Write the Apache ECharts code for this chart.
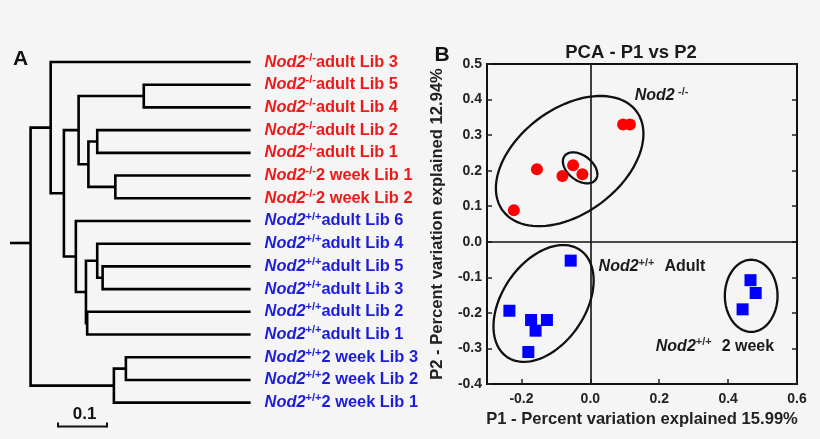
<!DOCTYPE html>
<html><head><meta charset="utf-8">
<script src="https://cdn.jsdelivr.net/npm/echarts@6/dist/echarts.min.js"></script>
<style>html,body{margin:0;padding:0;background:#f5f5f5}#c{width:820px;height:439px}</style>
</head><body><div id="c"></div>
<script>
// ---------- Panel A : dendrogram ----------
const leafGenotype = ['-/-','-/-','-/-','-/-','-/-','-/-','-/-','+/+','+/+','+/+','+/+','+/+','+/+','+/+','+/+','+/+'];
const leafNames = ['adult Lib 3','adult Lib 5','adult Lib 4','adult Lib 2','adult Lib 1','2 week Lib 1','2 week Lib 2',
  'adult Lib 6','adult Lib 4','adult Lib 5','adult Lib 3','adult Lib 2','adult Lib 1','2 week Lib 3','2 week Lib 2','2 week Lib 1'];
// linkage: [childA, childB, node distance from root]; leaves 0..15, internal nodes 16..
const merges = [
  [1, 2, 0.231], [3, 4, 0.136], [5, 6, 0.173], [17, 18, 0.118], [16, 19, 0.098],
  [9, 10, 0.147], [8, 21, 0.136], [11, 12, 0.1155], [22, 23, 0.113], [7, 24, 0.0924],
  [20, 25, 0.068], [0, 26, 0.041], [13, 14, 0.1945], [28, 15, 0.170], [27, 29, 0.0]
];
const tipDistance = 0.449;
const scaleBarLength = 0.1;

// ---------- Panel B : PCA ----------
const koPoints = [[0.095,0.33],[0.115,0.33],[-0.155,0.204],[-0.081,0.185],[-0.05,0.215],[-0.023,0.19],[-0.222,0.089]];
const wtAdultPoints = [[-0.057,-0.053],[-0.235,-0.194],[-0.172,-0.22],[-0.126,-0.22],[-0.159,-0.25],[-0.18,-0.31]];
const wt2wkPoints = [[0.465,-0.108],[0.48,-0.144],[0.442,-0.19]];
// ellipse: [cx, cy, ax, ay, by]  x = cx + ax*cos t ; y = cy + ay*cos t + by*sin t
const ellipses = [
  [-0.060, 0.227, 0.2142, 0.0765, 0.1664],
  [-0.0297, 0.208, 0.0500, -0.0180, 0.0397],
  [-0.1358, -0.1735, 0.1454, 0.0645, 0.1511],
  [0.467, -0.152, 0.0765, 0, 0.1014]
];
const xTickValues = [-0.2, 0, 0.2, 0.4, 0.6];

// ---------- layout constants ----------
const FONT = 'Liberation Sans, Arial, sans-serif';
const rootStub = 0.042, stubRow = 7.97, scaleBarStart = 0.056;
const annotationAnchors = [[0.129, 0.41], [0.024, -0.071], [0.19, -0.294]];

// derived tree geometry
const nLeaf = leafNames.length;
const nodeX = [], nodeY = [];
for (let i = 0; i < nLeaf; i++) { nodeX.push(tipDistance); nodeY.push(i); }
merges.forEach(m => { nodeX.push(m[2]); nodeY.push((nodeY[m[0]] + nodeY[m[1]]) / 2); });
const segments = merges.map(m => [m[2], nodeX[m[0]], nodeY[m[0]], nodeX[m[1]], nodeY[m[1]]]);

const RED = '#f01818', BLUE = '#1c1cdc';
function richSet(prefix, color) {
  const o = {};
  o[prefix + 'it'] = {fontFamily: FONT, fontSize: 16.4, fontWeight: 'bold', fontStyle: 'italic', color: color, lineHeight: 20, verticalAlign: 'middle'};
  o[prefix + 'sup'] = {fontFamily: FONT, fontSize: 11, fontWeight: 'bold', color: color, lineHeight: 12, verticalAlign: 'top'};
  o[prefix + 'tx'] = {fontFamily: FONT, fontSize: 16.4, fontWeight: 'bold', color: color, lineHeight: 20, verticalAlign: 'middle'};
  return o;
}
const leafRich = Object.assign({}, richSet('r', RED), richSet('b', BLUE));

const chart = echarts.init(document.getElementById('c'));
const option = {
  backgroundColor: '#f5f5f5',
  animation: false,
  grid: [
    {left: 10, top: 50.65, width: 240.6, height: 363.35, outerBoundsMode: 'none'},
    {left: 487, top: 64, width: 310, height: 320, show: true, borderColor: '#111', borderWidth: 2, backgroundColor: 'transparent', outerBoundsMode: 'none'}
  ],
  xAxis: [
    {gridIndex: 0, type: 'value', min: -rootStub, max: tipDistance, show: false},
    {gridIndex: 1, type: 'value', min: -0.3, max: 0.6, interval: 0.1,
      axisLine: {show: true, onZero: false, lineStyle: {color: '#111', width: 2}},
      axisTick: {show: true, inside: true, length: 5, customValues: xTickValues, lineStyle: {color: '#222', width: 1.5}},
      axisLabel: {customValues: xTickValues, margin: 8, formatter: v => v.toFixed(1), color: '#222', fontFamily: FONT, fontWeight: 'bold', fontSize: 14},
      splitLine: {show: false},
      name: 'P1 - Percent variation explained 15.99%', nameLocation: 'middle', nameGap: 27,
      nameTextStyle: {color: '#222', fontFamily: FONT, fontWeight: 'bold', fontSize: 16.6}}
  ],
  yAxis: [
    {gridIndex: 0, type: 'value', min: -0.5, max: nLeaf - 0.5, inverse: true, show: false},
    {gridIndex: 0, type: 'category', inverse: true, position: 'right', data: leafNames,
      axisLine: {show: false}, axisTick: {show: false},
      axisLabel: {margin: 14, rich: leafRich, formatter: (v, i) => {
        const p = leafGenotype[i] === '-/-' ? 'r' : 'b';
        return '{' + p + 'it|Nod2}{' + p + 'sup|' + leafGenotype[i] + '}{' + p + 'tx|' + leafNames[i] + '}';
      }}},
    {gridIndex: 1, type: 'value', min: -0.4, max: 0.5, interval: 0.1,
      axisLine: {show: true, onZero: false, lineStyle: {color: '#111', width: 2}},
      axisTick: {show: true, inside: true, length: 5, lineStyle: {color: '#222', width: 1.5}},
      axisLabel: {margin: 5, formatter: v => v.toFixed(1), color: '#222', fontFamily: FONT, fontWeight: 'bold', fontSize: 14},
      splitLine: {show: false},
      name: 'P2 - Percent variation explained 12.94%', nameLocation: 'middle', nameGap: 41,
      nameTextStyle: {color: '#222', fontFamily: FONT, fontWeight: 'bold', fontSize: 16.6}},
    {gridIndex: 1, type: 'value', min: -0.4, max: 0.5, interval: 0.1, position: 'right',
      axisLine: {show: true, onZero: false, lineStyle: {color: '#111', width: 2}},
      axisTick: {show: true, inside: true, length: 5, lineStyle: {color: '#222', width: 1.5}},
      axisLabel: {show: false}, splitLine: {show: false}}
  ],
  series: [
    {type: 'custom', xAxisIndex: 0, yAxisIndex: 0, data: segments, encode: {x: [0, 1, 3], y: [2, 4]}, clip: false,
      renderItem: (params, api) => {
        const xn = api.value(0), xa = api.value(1), ya = api.value(2), xb = api.value(3), yb = api.value(4);
        return {type: 'polyline', shape: {points: [api.coord([xa, ya]), api.coord([xn, ya]), api.coord([xn, yb]), api.coord([xb, yb])]},
          style: {stroke: '#000', lineWidth: 2.6, fill: null, lineJoin: 'miter'}};
      }},
    {type: 'custom', xAxisIndex: 0, yAxisIndex: 0, data: [[-rootStub, 0, stubRow]], encode: {x: [0, 1], y: 2}, clip: false,
      renderItem: (params, api) => {
        const a = api.coord([api.value(0), api.value(2)]), b = api.coord([api.value(1), api.value(2)]);
        return {type: 'line', shape: {x1: a[0], y1: a[1], x2: b[0], y2: b[1]}, style: {stroke: '#000', lineWidth: 2.6}};
      }},
    {type: 'custom', xAxisIndex: 0, yAxisIndex: 0, data: [[scaleBarStart, scaleBarStart + scaleBarLength]], encode: {x: [0, 1]}, clip: false,
      renderItem: (params, api) => {
        const a = api.coord([api.value(0), 16.05]), b = api.coord([api.value(1), 16.05]);
        const t = api.coord([(api.value(0) + api.value(1)) / 2, 15.52]);
        return {type: 'group', children: [
          {type: 'line', shape: {x1: a[0], y1: a[1], x2: b[0], y2: b[1]}, style: {stroke: '#111', lineWidth: 2}},
          {type: 'line', shape: {x1: a[0], y1: a[1] - 4, x2: a[0], y2: a[1] + 1}, style: {stroke: '#111', lineWidth: 2}},
          {type: 'line', shape: {x1: b[0], y1: b[1] - 4, x2: b[0], y2: b[1] + 1}, style: {stroke: '#111', lineWidth: 2}},
          {type: 'text', x: t[0] + 2, y: t[1], style: {text: String(scaleBarLength), align: 'center', verticalAlign: 'middle', fill: '#111',
            font: 'bold 17px ' + FONT}}
        ]};
      }},
    {type: 'custom', xAxisIndex: 1, yAxisIndex: 2, data: ellipses, encode: {x: 0, y: 1}, z: 2,
      renderItem: (params, api) => {
        const cx = api.value(0), cy = api.value(1), ax = api.value(2), ay = api.value(3), by = api.value(4);
        const pts = [];
        for (let k = 0; k < 96; k++) {
          const t = 2 * Math.PI * k / 96;
          pts.push(api.coord([cx + ax * Math.cos(t), cy + ay * Math.cos(t) + by * Math.sin(t)]));
        }
        return {type: 'polygon', shape: {points: pts}, style: {stroke: '#111', lineWidth: 2.3, fill: null}};
      }},
    {type: 'scatter', xAxisIndex: 1, yAxisIndex: 2, data: koPoints, symbol: 'circle', symbolSize: 12, z: 3,
      itemStyle: {color: '#ff0000', opacity: 1},
      markLine: {silent: true, symbol: ['none', 'none'], label: {show: false}, lineStyle: {color: '#111', width: 1.6, type: 'solid'},
        data: [{xAxis: 0}, {yAxis: 0}]}},
    {type: 'scatter', xAxisIndex: 1, yAxisIndex: 2, data: wtAdultPoints, symbol: 'rect', symbolSize: 12, z: 3, itemStyle: {color: '#0000ff', opacity: 1}},
    {type: 'scatter', xAxisIndex: 1, yAxisIndex: 2, data: wt2wkPoints, symbol: 'rect', symbolSize: 12, z: 3, itemStyle: {color: '#0000ff', opacity: 1}}
  ]
};
chart.setOption(option);

const annRich = {
  it: {fontFamily: FONT, fontSize: 16, fontWeight: 'bold', fontStyle: 'italic', fill: '#1a1a1a', lineHeight: 20, verticalAlign: 'middle'},
  sup: {fontFamily: FONT, fontSize: 11, fontWeight: 'bold', fill: '#333', lineHeight: 12, verticalAlign: 'top'},
  tx: {fontFamily: FONT, fontSize: 16, fontWeight: 'bold', fill: '#1a1a1a', lineHeight: 20, verticalAlign: 'middle', padding: [0, 0, 0, 10]}
};
const annTexts = ['{it|Nod2} {sup|-/-}', '{it|Nod2}{sup|+/+}{tx|Adult}', '{it|Nod2}{sup|+/+}{tx|2 week}'];
const graphics = annotationAnchors.map((p, i) => {
  const px = chart.convertToPixel({xAxisIndex: 1, yAxisIndex: 2}, p);
  return {type: 'text', x: px[0], y: px[1], z: 10, style: {text: annTexts[i], rich: annRich, align: 'left', verticalAlign: 'middle'}};
});
graphics.push({type: 'text', x: 631, y: 53, style: {text: 'PCA - P1 vs P2', font: 'bold 18.5px ' + FONT, fill: '#1a1a1a', align: 'center', verticalAlign: 'middle'}});
graphics.push({type: 'text', x: 20.5, y: 59, style: {text: 'A', font: 'bold 21px ' + FONT, fill: '#111', align: 'center', verticalAlign: 'middle'}});
graphics.push({type: 'text', x: 442, y: 55.5, style: {text: 'B', font: 'bold 21px ' + FONT, fill: '#111', align: 'center', verticalAlign: 'middle'}});
chart.setOption({graphic: graphics});
</script>
</body></html>
